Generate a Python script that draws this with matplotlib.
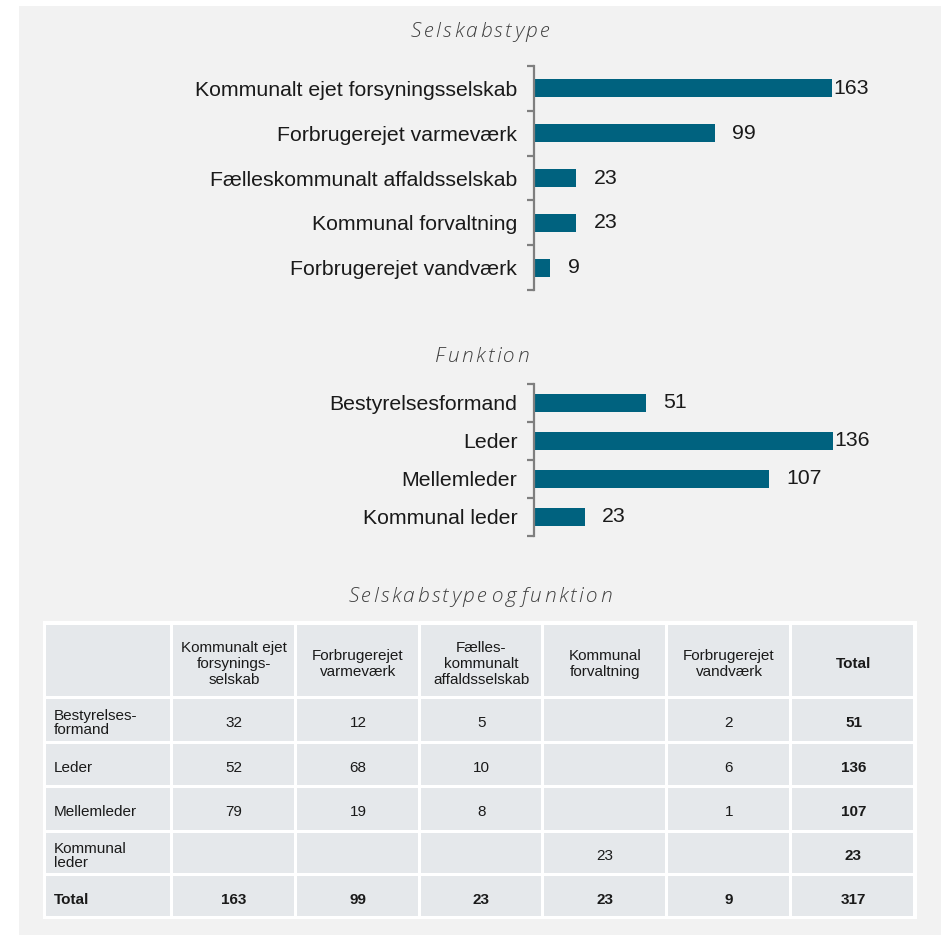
import matplotlib
matplotlib.use("Agg")
import matplotlib.pyplot as plt
from matplotlib.patches import Rectangle

plt.rcParams['font.family'] = ['Liberation Sans', 'DejaVu Sans']

# ---------------- data ----------------
selskab_types = ['Kommunalt ejet forsyningsselskab', 'Forbrugerejet varmeværk',
                 'Fælleskommunalt affaldsselskab', 'Kommunal forvaltning',
                 'Forbrugerejet vandværk']
selskab_counts = [163, 99, 23, 23, 9]

funktioner = ['Bestyrelsesformand', 'Leder', 'Mellemleder', 'Kommunal leder']
funktion_counts = [51, 136, 107, 23]

table_col_headers = ['Kommunalt ejet\nforsynings-\nselskab', 'Forbrugerejet\nvarmeværk',
                     'Fælles-\nkommunalt\naffaldsselskab', 'Kommunal\nforvaltning',
                     'Forbrugerejet\nvandværk', 'Total']
table_row_labels = ['Bestyrelses-\nformand', 'Leder', 'Mellemleder', 'Kommunal\nleder', 'Total']
row_bestyrelse = [32, 12, 5, None, 2, 51]
row_leder = [52, 68, 10, None, 6, 136]
row_mellemleder = [79, 19, 8, None, 1, 107]
row_kommunal_leder = [None, None, None, 23, None, 23]
row_total = [163, 99, 23, 23, 9, 317]
table_rows = [row_bestyrelse, row_leder, row_mellemleder, row_kommunal_leder, row_total]

titles = ['Selskabstype', 'Funktion', 'Selskabstype og funktion']

# ---------------- style ----------------
W, H = 941, 935
BAR = '#00627F'
BG = '#F2F2F2'
CELL = '#E5E8EB'
SPINE = '#7F7F7F'
TXT = '#1A1A1A'
TITLE_C = '#3F3F3F'

fig = plt.figure(figsize=(W / 100, H / 100), dpi=100, facecolor='white')
renderer = fig.canvas.get_renderer()

# background panel
bgax = fig.add_axes([0, 0, 1, 1])
bgax.set_xlim(0, W)
bgax.set_ylim(H, 0)
bgax.axis('off')
bgax.add_patch(Rectangle((19, 6), W - 19, H - 6, facecolor=BG, edgecolor='none'))


def text_w(s, **kw):
    t = fig.text(0, 0, s, **kw)
    w = t.get_window_extent(renderer).width
    t.remove()
    return w


def tracked_text(xc, yc, s, track, **kw):
    """Draw text centred at pixel (xc, yc) with extra spacing between letters."""
    ref = text_w('l', **kw)
    pos = []
    extra = 0.0
    for k in range(len(s)):
        if k > 0 and s[k] != ' ' and s[k - 1] != ' ':
            extra += track
        pos.append(0 if k == 0 else text_w(s[:k] + 'l', **kw) - ref + extra)
    total = text_w(s, **kw) + extra
    x0 = xc - total / 2
    for k, ch in enumerate(s):
        if ch == ' ':
            continue
        fig.text((x0 + pos[k]) / W, 1 - yc / H, ch, ha='left', va='center', **kw)


def px_axes(x0, x1, y0, y1):
    return fig.add_axes([x0 / W, 1 - y1 / H, (x1 - x0) / W, (y1 - y0) / H])


def hbar(ax, cats, vals, bar_h):
    n = len(cats)
    ys = list(range(n))
    ax.barh(ys, vals, height=bar_h, color=BAR)
    ax.set_xlim(0, max(vals))
    ax.set_ylim(n - 0.5, -0.5)
    ax.set_facecolor('none')
    for s in ['top', 'right', 'bottom']:
        ax.spines[s].set_visible(False)
    ax.spines['left'].set_color(SPINE)
    ax.spines['left'].set_linewidth(1.6)
    ax.set_xticks([])
    ax.set_yticks([i - 0.5 for i in range(n + 1)])
    ax.set_yticklabels([])
    ax.tick_params(axis='y', which='major', length=5, width=1.6, color=SPINE, direction='out')
    ax.set_yticks(ys, minor=True)
    ax.set_yticklabels(cats, minor=True, fontsize=15.3, color=TXT)
    ax.tick_params(axis='y', which='minor', length=0, pad=12)
    vmax = max(vals)
    for y, v in zip(ys, vals):
        off = 0.8 if v == vmax else 12.5
        ax.annotate(str(v), (v, y), xytext=(off, 0), textcoords='offset points',
                    ha='left', va='center', fontsize=15.3, color=TXT, annotation_clip=False)


ax1 = px_axes(534, 832, 66, 290)
hbar(ax1, selskab_types, selskab_counts, 0.4)

ax2 = px_axes(534, 833, 384, 536)
hbar(ax2, funktioner, funktion_counts, 0.46)

# titles
title_kw = dict(fontsize=15, style='italic', color=TITLE_C,
                family=['Open Sans', 'DejaVu Sans'], fontweight='light')
tracked_text(480, 32, titles[0], 2.5, **title_kw)
tracked_text(482, 357, titles[1], 2.4, **title_kw)
tracked_text(480, 597, titles[2], 2.4, **title_kw)

# ---------------- table ----------------
col_edges = [44, 172, 296, 420, 543, 667, 791, 916]
row_edges = [622, 697, 742, 786, 831, 874, 918]
bgax.add_patch(Rectangle((col_edges[0] - 1, row_edges[0] - 1),
                         col_edges[-1] - col_edges[0] + 2, row_edges[-1] - row_edges[0] + 2,
                         facecolor='white', edgecolor='none'))
for i in range(len(row_edges) - 1):
    for j in range(len(col_edges) - 1):
        x0, x1 = col_edges[j], col_edges[j + 1]
        y0, y1 = row_edges[i], row_edges[i + 1]
        l = x0 + (2.5 if j == 0 else 1.5)
        r = x1 - (2.5 if j == len(col_edges) - 2 else 1.5)
        t = y0 + (2.5 if i == 0 else 1.5)
        b = y1 - (2.5 if i == len(row_edges) - 2 else 1.5)
        bgax.add_patch(Rectangle((l, t), r - l, b - t, facecolor=CELL, edgecolor='none'))

fs_tab = 11
# header
for j, hdr in enumerate(table_col_headers):
    xc = (col_edges[j + 1] + col_edges[j + 2]) / 2
    bold = hdr == 'Total'
    bgax.text(xc, 664, hdr, ha='center', va='center', fontsize=fs_tab, color=TXT,
              linespacing=1.15, fontweight='bold' if bold else 'normal')
# rows
for i, (lab, vals) in enumerate(zip(table_row_labels, table_rows)):
    yc = (row_edges[i + 1] + row_edges[i + 2]) / 2 + 3.5
    is_total_row = lab == 'Total'
    bgax.text(54, yc, lab, ha='left', va='center', fontsize=fs_tab, color=TXT,
              linespacing=1.05, fontweight='bold' if is_total_row else 'normal')
    for j, v in enumerate(vals):
        if v is None:
            continue
        xc = (col_edges[j + 1] + col_edges[j + 2]) / 2
        bold = is_total_row or j == len(vals) - 1
        bgax.text(xc, yc, str(v), ha='center', va='center', fontsize=fs_tab, color=TXT,
                  fontweight='bold' if bold else 'normal')

fig.savefig('out.png', dpi=100, facecolor='white')
